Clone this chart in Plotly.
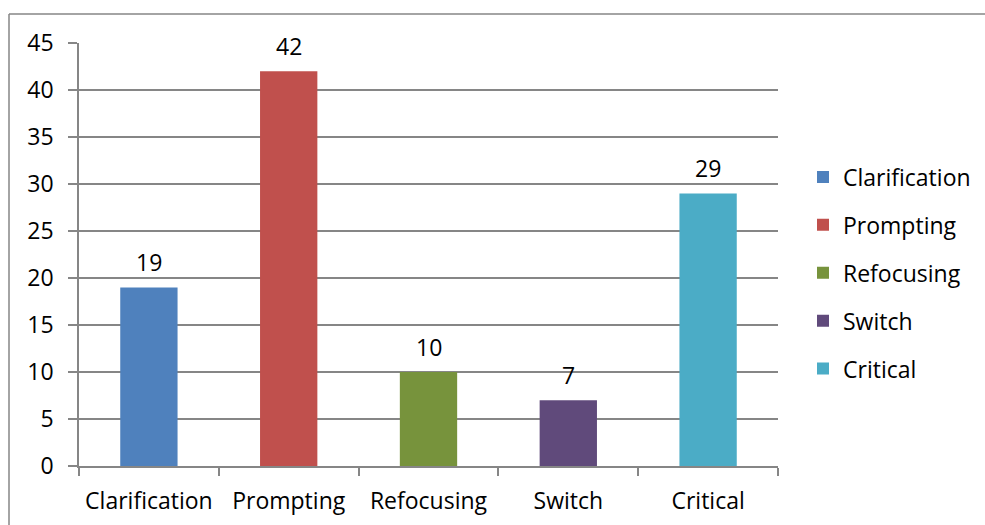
import plotly.graph_objects as go

categories = ["Clarification", "Prompting", "Refocusing", "Switch", "Critical"]
values = [19, 42, 10, 7, 29]
colors = ["#4F81BD", "#C0504D", "#77933C", "#604A7B", "#4BACC6"]
y_ticks = [0, 5, 10, 15, 20, 25, 30, 35, 40, 45]

FONT = "Open Sans"
FS = 23
GRID = "#868686"

fig = go.Figure()
for i, (c, v, col) in enumerate(zip(categories, values, colors)):
    fig.add_trace(go.Bar(
        x=[c], y=[v], name=c, marker=dict(color=col, line=dict(width=0)),
        width=0.41, legendgroup=c, showlegend=True,
    ))
    fig.add_annotation(x=c, y=v, text=str(v), showarrow=False,
                       yanchor="bottom", yshift=7,
                       font=dict(family=FONT, size=FS, color="#000000"))

W, H = 985, 525
L, R, T, B = 79, 207, 43, 59
pw, ph = W - L - R, H - T - B

def px_x(p):
    return (p - L) / pw

def px_y(p):
    return (H - B - p) / ph

fig.update_layout(
    width=W, height=H,
    margin=dict(l=L, r=R, t=T, b=B, autoexpand=False),
    paper_bgcolor="white", plot_bgcolor="white",
    barmode="overlay",
    font=dict(family=FONT, size=FS, color="#000000"),
    showlegend=True,
    legend=dict(
        x=px_x(803), xanchor="left", y=px_y(273), yanchor="middle",
        traceorder="grouped", tracegroupgap=15,
        font=dict(family=FONT, size=FS, color="#000000"),
        bgcolor="rgba(0,0,0,0)", itemsizing="constant",
    ),
    xaxis=dict(
        categoryorder="array", categoryarray=categories,
        showline=True, linecolor=GRID, linewidth=1.5,
        ticks="outside", tickson="boundaries", ticklen=8, tickcolor=GRID, tickwidth=1.5,
        showgrid=False, zeroline=False, ticklabelstandoff=14,
    ),
    yaxis=dict(
        range=[0, 45], tickvals=y_ticks,
        showline=True, linecolor=GRID, linewidth=1.5,
        ticks="outside", ticklen=9, tickcolor=GRID, tickwidth=1.5,
        showgrid=True, gridcolor=GRID, gridwidth=1.5, zeroline=False,
        ticklabelstandoff=10,
    ),
    shapes=[
        dict(type="line", xref="paper", yref="paper",
             x0=px_x(9), x1=px_x(W + 5), y0=px_y(14), y1=px_y(14),
             line=dict(color=GRID, width=1.5)),
        dict(type="line", xref="paper", yref="paper",
             x0=px_x(9), x1=px_x(9), y0=px_y(14), y1=px_y(H + 5),
             line=dict(color=GRID, width=1.5)),
    ],
)

fig.write_html("out.html")
